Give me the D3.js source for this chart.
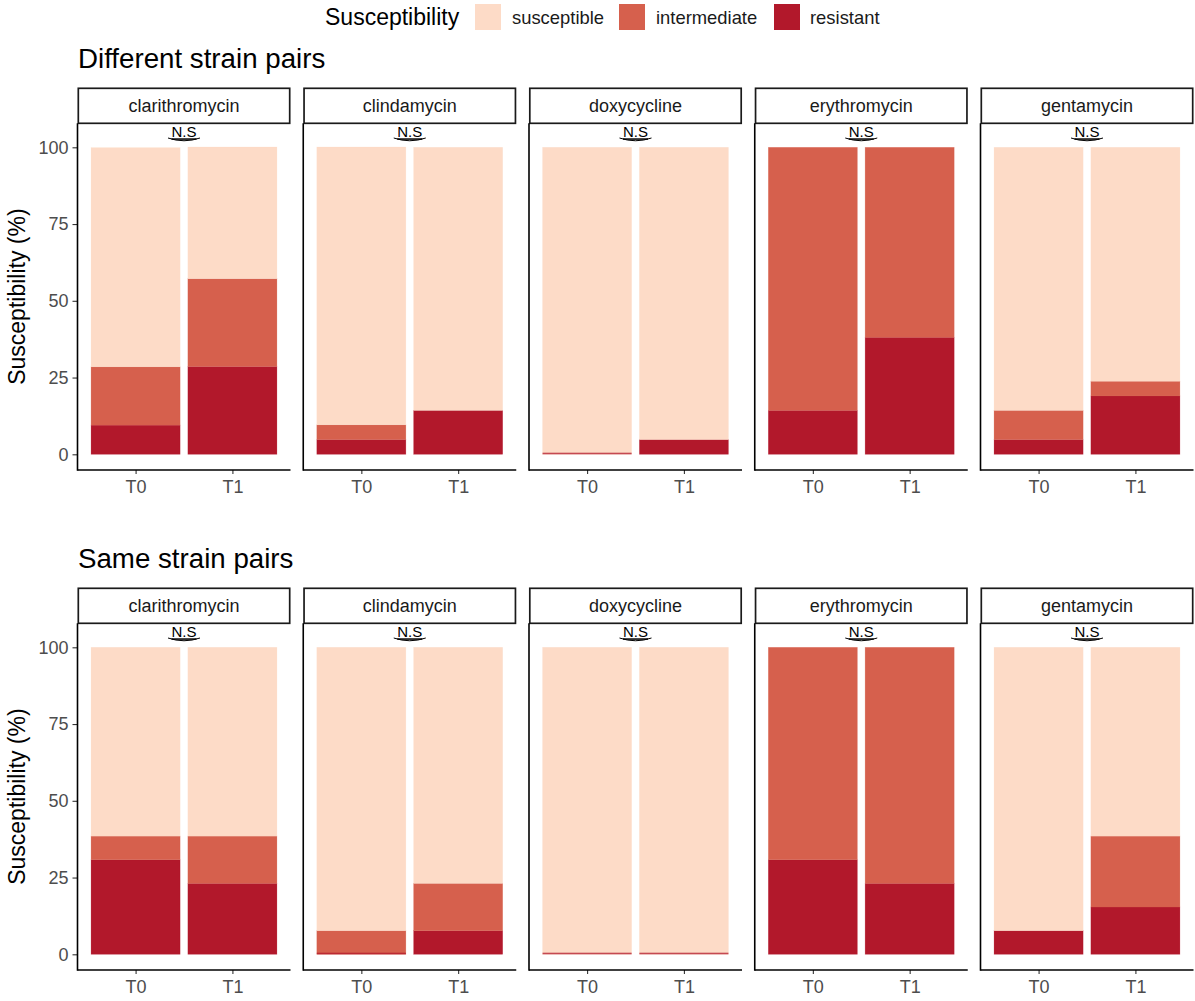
<!DOCTYPE html>
<html>
<head>
<meta charset="utf-8">
<script src="https://d3js.org/d3.v7.min.js"></script>
<style>
  html, body { margin: 0; padding: 0; background: #fff; }
  svg { display: block; font-family: "Liberation Sans", Arial, sans-serif; }
</style>
</head>
<body>
<svg id="chart" width="1195" height="1001"></svg>
<script>
// ---------- data ----------
const drugs = ["clarithromycin", "clindamycin", "doxycycline", "erythromycin", "gentamycin"];
const timepoints = ["T0", "T1"];
const categories = ["susceptible", "intermediate", "resistant"];
const categoryColors = ["#FDDBC7", "#D6604D", "#B2182B"];
const yTicks = [0, 25, 50, 75, 100];
const groupTitles = ["Different strain pairs", "Same strain pairs"];
const sigLabels = ["N.S", "N.S", "N.S", "N.S", "N.S"];

// Different strain pairs (%), per drug: [T0, T1]
const diffResistant    = [[9.5, 28.6], [4.8, 14.3], [0, 4.8],   [14.3, 38.1], [4.8, 19.0]];
const diffIntermediate = [[19.0, 28.6], [4.8, 0],   [0, 0],     [85.7, 61.9], [9.5, 4.8]];
const diffSusceptible  = [[71.4, 42.9], [90.5, 85.7], [100, 95.2], [0, 0],    [85.7, 76.2]];

// Same strain pairs (%), per drug: [T0, T1]
const sameResistant    = [[30.8, 23.1], [0, 7.7],   [0, 0],     [30.8, 23.1], [7.7, 15.4]];
const sameIntermediate = [[7.7, 15.4], [7.7, 15.4], [0, 0],     [69.2, 76.9], [0, 23.1]];
const sameSusceptible  = [[61.5, 61.5], [92.3, 76.9], [100, 100], [0, 0],     [92.3, 61.5]];

const groups = [
  { title: groupTitles[0], resistant: diffResistant, intermediate: diffIntermediate, susceptible: diffSusceptible },
  { title: groupTitles[1], resistant: sameResistant, intermediate: sameIntermediate, susceptible: sameSusceptible }
];

// ---------- layout ----------
const svg = d3.select("#chart");
const panelLeft0 = 77.5, panelStep = 225.75, panelW = 213;
const groupOffset = 500;
const stripTop = 88.3, stripBottom = 123.3;
const y0 = 454.3, y100 = 147.3, axisY = 470;

const color = d3.scaleOrdinal().domain(categories).range(categoryColors);

// ---------- legend ----------
const legend = svg.append("g");
legend.append("text").attr("x", 325).attr("y", 17).attr("dominant-baseline", "central")
  .attr("font-size", 23).attr("fill", "#000").text("Susceptibility");
const legendPos = [{box: 475, text: 512}, {box: 619, text: 656}, {box: 774, text: 810}];
categories.forEach((c, i) => {
  legend.append("rect").attr("x", legendPos[i].box).attr("y", 4).attr("width", 26).attr("height", 26)
    .attr("fill", color(c));
  legend.append("text").attr("x", legendPos[i].text).attr("y", 17).attr("dominant-baseline", "central")
    .attr("font-size", 18.4).attr("fill", "#1a1a1a").text(c);
});

// ---------- panels ----------
groups.forEach((grp, gi) => {
  const off = gi * groupOffset;
  const g = svg.append("g").attr("transform", `translate(0,${off})`);

  g.append("text").attr("x", 78).attr("y", 68.3).attr("font-size", 27.7).attr("fill", "#000").text(grp.title);

  const y = d3.scaleLinear().domain([0, 100]).range([y0, y100]);

  // y axis title
  g.append("text")
    .attr("transform", `translate(25,${(stripBottom + axisY) / 2}) rotate(-90)`)
    .attr("text-anchor", "middle").attr("font-size", 23).attr("fill", "#000")
    .text("Susceptibility (%)");

  // y ticks on first panel
  const yAxis = d3.axisLeft(y).tickValues(yTicks).tickSize(5).tickPadding(4);
  const ya = g.append("g").attr("transform", `translate(${panelLeft0},0)`).call(yAxis);
  ya.select(".domain").remove();
  ya.selectAll(".tick line").attr("stroke", "#333").attr("stroke-width", 1.1);
  ya.selectAll(".tick text").attr("font-size", 18).attr("fill", "#4d4d4d")
    .attr("font-family", "Liberation Sans, Arial, sans-serif");

  drugs.forEach((drug, di) => {
    const left = panelLeft0 + di * panelStep;
    const x = d3.scaleLinear().domain([0.4, 2.6]).range([left, left + panelW]);
    const barW = x(0.92) - x(0);

    // strip
    g.append("rect").attr("x", left + 0.8).attr("y", stripTop).attr("width", panelW - 1.6)
      .attr("height", stripBottom - stripTop).attr("fill", "#fff").attr("stroke", "#1a1a1a").attr("stroke-width", 1.7);
    g.append("text").attr("x", left + panelW / 2).attr("y", (stripTop + stripBottom) / 2)
      .attr("dominant-baseline", "central").attr("text-anchor", "middle")
      .attr("font-size", 18).attr("fill", "#1a1a1a").text(drug);

    // bars
    const zeroMarks = [];
    timepoints.forEach((tp, ti) => {
      const cx = x(ti + 1);
      const vals = { resistant: grp.resistant[di][ti], intermediate: grp.intermediate[di][ti], susceptible: grp.susceptible[di][ti] };
      let cum = 0;
      ["resistant", "intermediate", "susceptible"].forEach(cat => {
        const v = vals[cat];
        const top = y(cum + v), bot = y(cum);
        if (v > 0) {
          g.append("rect").attr("x", cx - barW / 2).attr("width", barW)
            .attr("y", top).attr("height", bot - top).attr("fill", color(cat))
            .attr("stroke", color(cat)).attr("stroke-opacity", 0.35).attr("stroke-width", 0.6);
        } else if (cat === "resistant") {
          zeroMarks.push({ cx, bot, cat });
        }
        cum += v;
      });
    });
    // zero-height bars: only their outline shows, drawn on top
    zeroMarks.forEach(m => {
      g.append("rect").attr("x", m.cx - barW / 2).attr("width", barW)
        .attr("y", m.bot - 1.6).attr("height", 1.6).attr("fill", color(m.cat)).attr("fill-opacity", 0.75);
    });

    // x axis
    const xAxis = d3.axisBottom(x).tickValues([1, 2]).tickFormat((d, i) => timepoints[i]).tickSize(4).tickPadding(6);
    const xa = g.append("g").attr("transform", `translate(0,${axisY})`).call(xAxis);
    xa.select(".domain").remove();
    xa.selectAll(".tick line").attr("stroke", "#333").attr("stroke-width", 1.1);
    xa.selectAll(".tick text").attr("font-size", 18).attr("fill", "#4d4d4d")
      .attr("font-family", "Liberation Sans, Arial, sans-serif");
    g.append("line").attr("x1", left).attr("x2", left + panelW).attr("y1", axisY).attr("y2", axisY)
      .attr("stroke", "#000").attr("stroke-width", 1.6);
    g.append("line").attr("x1", left).attr("x2", left).attr("y1", stripBottom).attr("y2", axisY + 0.8)
      .attr("stroke", "#000").attr("stroke-width", 1.6);

    // significance annotation
    const pc = left + panelW / 2;
    g.append("text").attr("x", pc).attr("y", 137.3).attr("text-anchor", "middle")
      .attr("font-size", 15).attr("fill", "#000").attr("text-decoration", "underline")
      .text(sigLabels[di]);
    g.append("path").attr("d", `M${pc - 16},138 Q${pc},143.5 ${pc + 16},138`)
      .attr("fill", "none").attr("stroke", "#000").attr("stroke-width", 1);
  });
});
</script>
</body>
</html>
